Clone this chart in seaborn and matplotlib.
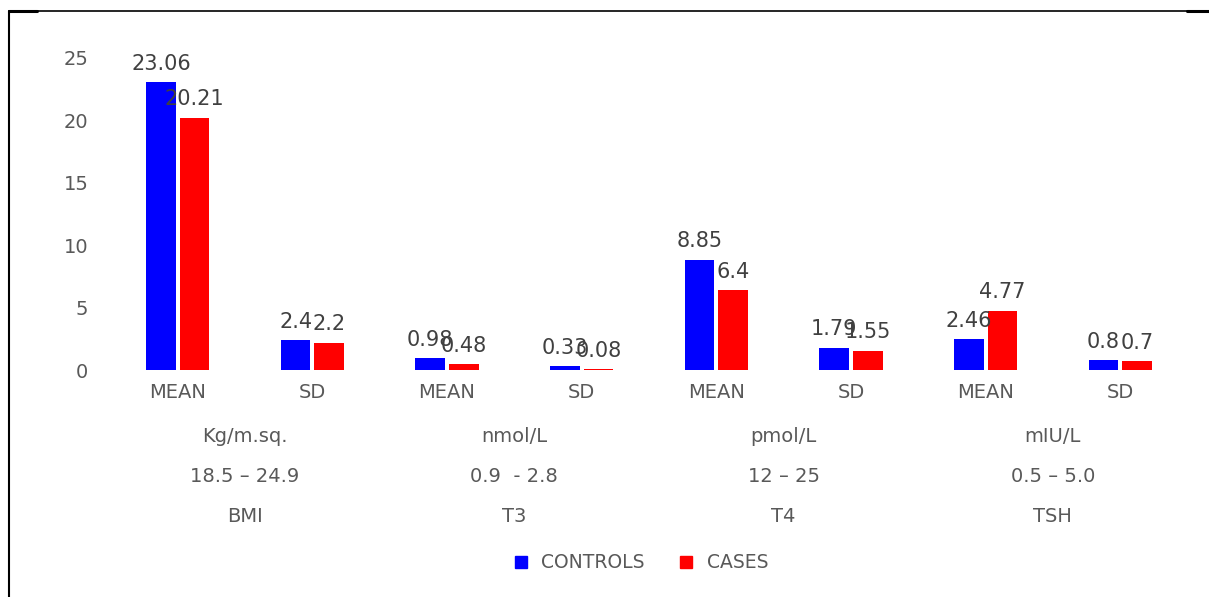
import pandas as pd
import matplotlib.pyplot as plt
import seaborn as sns
from matplotlib.lines import Line2D
from matplotlib.transforms import blended_transform_factory

# values
tests = ['BMI', 'T3', 'T4', 'TSH']
units = ['Kg/m.sq.', 'nmol/L', 'pmol/L', 'mIU/L']
ranges = ['18.5 \u2013 24.9', '0.9  - 2.8', '12 \u2013 25', '0.5 \u2013 5.0']
stats = ['MEAN', 'SD']
controls = [23.06, 2.4, 0.98, 0.33, 8.85, 1.79, 2.46, 0.8]
cases = [20.21, 2.2, 0.48, 0.08, 6.4, 1.55, 4.77, 0.7]
ctrl_labels = ['23.06', '2.4', '0.98', '0.33', '8.85', '1.79', '2.46', '0.8']
case_labels = ['20.21', '2.2', '0.48', '0.08', '6.4', '1.55', '4.77', '0.7']

sns.set_style('white')
plt.rcParams['font.family'] = ['DejaVu Sans']

cats = [f'{t}_{s}' for t in tests for s in stats]
df = pd.DataFrame({
    'cat': cats * 2,
    'value': controls + cases,
    'group': ['CONTROLS'] * len(cats) + ['CASES'] * len(cats),
})

fig = plt.figure(figsize=(12.09, 5.97), dpi=100)
ax = fig.add_axes([0.0914, 0.380, 0.8908, 0.523])
sns.barplot(data=df, x='cat', y='value', hue='group', order=cats,
            hue_order=['CONTROLS', 'CASES'], palette=['#0000FF', '#FF0000'],
            saturation=1, width=0.5, gap=0.12, linewidth=0, ax=ax, legend=False)

ax.set_ylim(0, 25)
ax.set_xlim(-0.5, len(cats) - 0.5)
ax.set_yticks(range(0, 26, 5))
ax.tick_params(axis='y', length=0, pad=16, labelsize=14, labelcolor='#595959')
ax.set_xticks(range(len(cats)))
ax.set_xticklabels([s for t in tests for s in stats])
ax.tick_params(axis='x', length=0, pad=9, labelsize=14, labelcolor='#595959')
ax.set_xlabel('')
ax.set_ylabel('')
for sp in ax.spines.values():
    sp.set_visible(False)

# value labels
for cont, labels in zip(ax.containers, [ctrl_labels, case_labels]):
    ax.bar_label(cont, labels=labels, padding=6, fontsize=15, color='#404040')

# extra rows under the categories
trans = blended_transform_factory(ax.transData, fig.transFigure)
for i, t in enumerate(tests):
    xc = 2 * i + 0.5
    for row, ypix in zip([units[i], ranges[i], t], [437, 477, 517]):
        ax.text(xc, 1 - ypix / 597, row, transform=trans, ha='center', va='center',
                fontsize=14, color='#595959')

handles = [Line2D([], [], marker='s', ls='', color='#0000FF', markersize=9),
           Line2D([], [], marker='s', ls='', color='#FF0000', markersize=9)]
leg = fig.legend(handles, ['CONTROLS', 'CASES'], loc='center', ncol=2,
                 bbox_to_anchor=(635 / 1209, 1 - 563 / 597), frameon=False,
                 handletextpad=0.1, columnspacing=1.2, fontsize=13.5)
for txt in leg.get_texts():
    txt.set_color('#595959')

# frame lines of the original picture
fig.add_artist(Line2D([9 / 1209, 1.0], [1 - 10.5 / 597] * 2, color='black', lw=1.2,
                      transform=fig.transFigure))
fig.add_artist(Line2D([9 / 1209] * 2, [0.0, 1 - 10.5 / 597], color='black', lw=1.5,
                      transform=fig.transFigure))
fig.add_artist(Line2D([9 / 1209, 37 / 1209], [1 - 11 / 597] * 2, color='black', lw=2.2,
                      transform=fig.transFigure))
fig.add_artist(Line2D([1187 / 1209, 1.0], [1 - 11 / 597] * 2, color='black', lw=2.2,
                      transform=fig.transFigure))

fig.savefig('out.png', dpi=100)
